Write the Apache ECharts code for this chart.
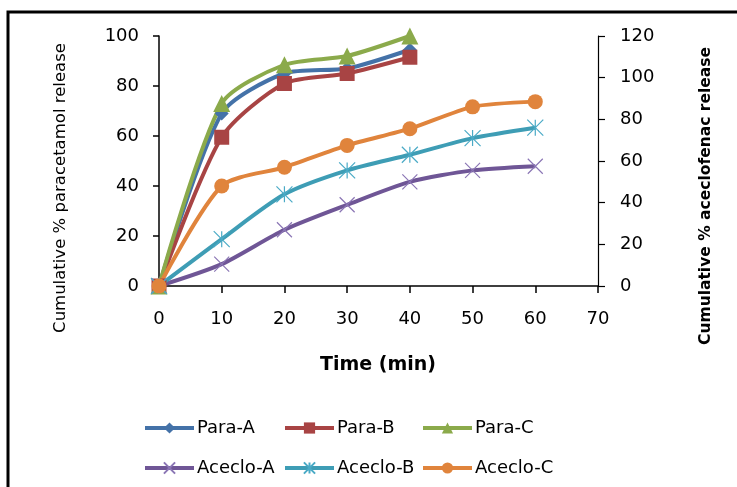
<!DOCTYPE html>
<html>
<head>
<meta charset="utf-8">
<script src="https://cdn.jsdelivr.net/npm/echarts@6/dist/echarts.min.js"></script>
<style>
  html, body { margin: 0; padding: 0; background: #fff; }
  #chart { width: 737px; height: 487px; }
</style>
</head>
<body>
<div id="chart"></div>
<script>
// time points (min)
const paraTimes = [0, 10, 20, 30, 40];
const acecloTimes = [0, 10, 20, 30, 40, 50, 60];

// cumulative % paracetamol release (left axis)
const paraA = [0, 69, 85, 87, 94.5];
const paraB = [0, 59.5, 81, 85, 91.5];
const paraC = [0, 73, 88.5, 92, 100];

// cumulative % aceclofenac release (right axis)
const acecloA = [0, 10.5, 27, 39, 50, 55.5, 57.5];
const acecloB = [0, 22.5, 44, 55.5, 63, 71, 76];
const acecloC = [0, 48, 57, 67.5, 75.5, 86, 88.5];

const FONT = 'DejaVu Sans';
const chart = echarts.init(document.getElementById('chart'));

const pair = (xs, ys) => xs.map((x, i) => [x, ys[i]]);
const xMark = 'path://M0,0L10,10M10,0L0,10';
const starMark = 'path://M0,0L10,10M10,0L0,10M5,0L5,10';

function lineSeries(name, xs, ys, color, axis, symbol, size, thin) {
  return {
    name: name,
    type: 'line',
    yAxisIndex: axis,
    data: pair(xs, ys),
    smooth: 0.25,
    symbol: symbol,
    symbolSize: size,
    lineStyle: { color: color, width: 4 },
    itemStyle: thin
      ? { color: thin, borderColor: thin, borderWidth: 1.2 }
      : { color: color, borderWidth: 0 },
    color: color,
    emphasis: { disabled: true },
    z: 2
  };
}

const option = {
  backgroundColor: '#fff',
  animation: false,
  textStyle: { fontFamily: FONT },
  grid: { left: 159, right: 139, top: 36, height: 250 },
  xAxis: {
    type: 'value',
    min: 0,
    max: 70,
    interval: 10,
    axisLine: { lineStyle: { color: '#000', width: 1.5 } },
    axisTick: { length: 7, lineStyle: { color: '#000', width: 1.5 } },
    axisLabel: { margin: 24, fontSize: 18, color: '#000', fontFamily: FONT },
    splitLine: { show: false }
  },
  yAxis: [
    {
      type: 'value',
      min: 0,
      max: 100,
      interval: 20,
      axisLine: { show: true, lineStyle: { color: '#000', width: 1.5 } },
      axisTick: { show: true, length: 6, lineStyle: { color: '#000', width: 1.5 } },
      axisLabel: { margin: 20, fontSize: 18, color: '#000', fontFamily: FONT },
      splitLine: { show: false }
    },
    {
      type: 'value',
      min: 0,
      max: 120,
      interval: 20,
      position: 'right',
      axisLine: { show: true, lineStyle: { color: '#000', width: 1.2 } },
      axisTick: { show: true, length: 7, lineStyle: { color: '#000', width: 1.2 } },
      axisLabel: { margin: 22, fontSize: 18, color: '#000', fontFamily: FONT },
      splitLine: { show: false }
    }
  ],
  legend: [
    { data: ['Para-A', 'Aceclo-A'], left: 138 },
    { data: ['Para-B', 'Aceclo-B'], left: 278 },
    { data: ['Para-C', 'Aceclo-C'], left: 416 }
  ].map(l => Object.assign({
    orient: 'vertical',
    top: 414,
    itemWidth: 49,
    itemHeight: 14,
    itemGap: 22,
    selectedMode: false,
    lineStyle: { width: 4 },
    textStyle: { fontSize: 18, color: '#000', fontFamily: FONT, padding: [0, 0, 0, -2] }
  }, l)),
  graphic: [
    {
      type: 'rect',
      shape: { x: 8, y: 12, width: 1000, height: 1000 },
      style: { fill: 'none', stroke: '#000', lineWidth: 3 },
      silent: true
    },
    {
      type: 'text',
      x: 61, y: 188,
      rotation: Math.PI / 2,
      style: {
        text: 'Cumulative % paracetamol release',
        font: '16.5px "DejaVu Sans"',
        fill: '#000',
        align: 'center',
        verticalAlign: 'middle'
      }
    },
    {
      type: 'text',
      x: 706, y: 196,
      rotation: Math.PI / 2,
      style: {
        text: 'Cumulative % aceclofenac release',
        font: 'bold 15.5px "DejaVu Sans"',
        fill: '#000',
        align: 'center',
        verticalAlign: 'middle'
      }
    },
    {
      type: 'text',
      x: 378, y: 365,
      style: {
        text: 'Time (min)',
        font: 'bold 19px "DejaVu Sans"',
        fill: '#000',
        align: 'center',
        verticalAlign: 'middle'
      }
    }
  ],
  series: [
    lineSeries('Para-A', paraTimes, paraA, '#4472A8', 0, 'diamond', 14),
    lineSeries('Para-B', paraTimes, paraB, '#A84444', 0, 'rect', 15),
    lineSeries('Para-C', paraTimes, paraC, '#8BAA4B', 0, 'triangle', 17),
    lineSeries('Aceclo-A', acecloTimes, acecloA, '#6F5696', 1, xMark, 15, '#8B76B5'),
    lineSeries('Aceclo-B', acecloTimes, acecloB, '#3E9DB5', 1, starMark, 16, '#4AAAC6'),
    lineSeries('Aceclo-C', acecloTimes, acecloC, '#E0843C', 1, 'circle', 15)
  ]
};

chart.setOption(option);
</script>
</body>
</html>
